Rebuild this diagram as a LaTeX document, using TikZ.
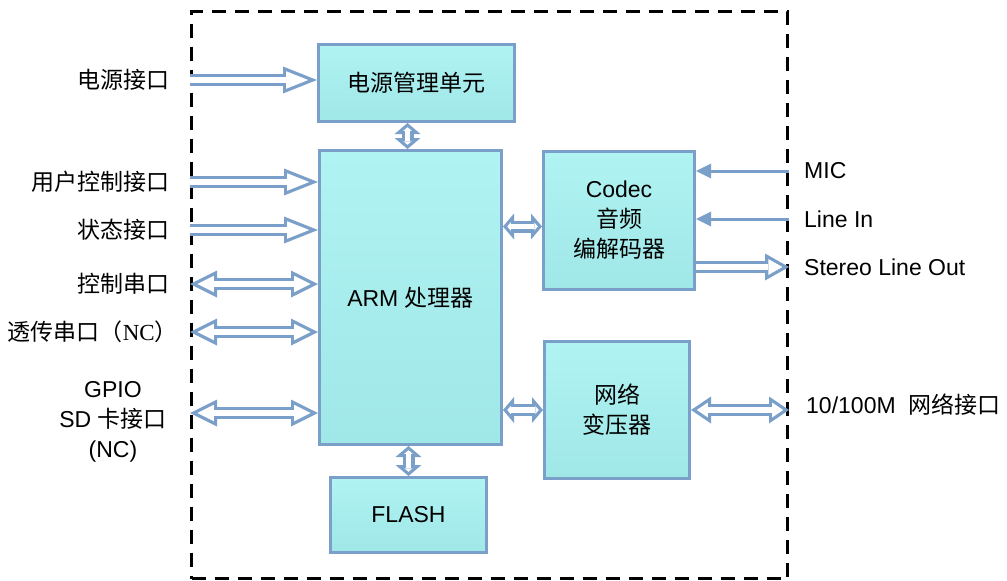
\documentclass[tikz,border=0pt]{standalone}
\usepackage{fontspec}
\setmainfont{Liberation Sans}
\newfontfamily\cjk{Noto Sans CJK SC}
\newfontfamily\serifnc{Liberation Serif}
\usetikzlibrary{arrows.meta}

\definecolor{edgeblue}{RGB}{122,160,202}
\definecolor{celltop}{RGB}{176,243,243}
\definecolor{cellbot}{RGB}{160,231,231}

\tikzset{
    bigtipo/.tip={Triangle[length=34pt,width=27pt,line width=0pt]},
    bigtipi/.tip={Triangle[length=22pt,width=17.5pt,line width=0pt]},
    midtipo/.tip={Triangle[length=27pt,width=27pt,line width=0pt]},
    midtipi/.tip={Triangle[length=16.5pt,width=16.5pt,line width=0pt]},
    nettipo/.tip={Triangle[length=20pt,width=27pt,line width=0pt]},
    nettipi/.tip={Triangle[length=11pt,width=14.8pt,line width=0pt]},
    outtipo/.tip={Triangle[length=24pt,width=27pt,line width=0pt]},
    outtipi/.tip={Triangle[length=14.1pt,width=15.9pt,line width=0pt]},
    tinytipo/.tip={Triangle[length=11pt,width=26pt,line width=0pt]},
    tinytipi/.tip={Triangle[length=3.5pt,width=8.3pt,line width=0pt]},
    block/.style={draw=edgeblue, line width=3pt, top color=celltop, bottom color=cellbot,
        anchor=north west, inner sep=0pt, align=center, font=\fontsize{23}{30}\selectfont},
    pinlbl/.style={inner sep=0pt, align=center, font=\fontsize{23}{30}\selectfont},
    % hollow buses: blue body, white core
    inbus/.style={draw=edgeblue, line width=12pt, -{bigtipo},
        postaction={draw=white, line width=5.5pt, -{bigtipi}, shorten >=8.8pt}},
    bibus/.style={draw=edgeblue, line width=12pt, {midtipo}-{midtipo},
        postaction={draw=white, line width=5.5pt, {midtipi}-{midtipi}, shorten <=7.3pt, shorten >=7.3pt}},
    netbus/.style={draw=edgeblue, line width=12pt, {nettipo}-{nettipo},
        postaction={draw=white, line width=5.5pt, {nettipi}-{nettipi}, shorten <=5.8pt, shorten >=5.8pt}},
    outbus/.style={draw=edgeblue, line width=12pt, -{outtipo},
        postaction={draw=white, line width=5.5pt, -{outtipi}, shorten >=6.6pt}},
    tinybus/.style={draw=edgeblue, line width=12pt, {tinytipo}-{tinytipo},
        postaction={draw=white, line width=5.5pt, {tinytipi}-{tinytipi}, shorten <=4.25pt, shorten >=4.25pt}},
    sigline/.style={draw=edgeblue, line width=3pt, -{Triangle[length=15pt,width=15pt,line width=0pt]}},
}

\begin{document}
\begin{tikzpicture}[x=1pt,y=-1pt]
    \useasboundingbox (0,0) rectangle (1007,581);

    % module outline
    \node[draw, line width=3pt, dash pattern=on 14pt off 9pt, anchor=north west, inner sep=0pt,
        minimum width=596pt, minimum height=567pt] (frame) at (190,10) {};

    % blocks
    \node[block, minimum width=196pt, minimum height=77pt] (pwr) at (317,43) {\cjk 电源管理单元};
    \node[block, minimum width=182pt, minimum height=294pt] (arm) at (318,149) {ARM {\cjk 处理器}};
    \node[block, minimum width=151pt, minimum height=138pt] (codec) at (542,150) {Codec\\{\cjk 音频}\\{\cjk 编解码器}};
    \node[block, minimum width=145pt, minimum height=137pt] (net) at (543,340) {{\cjk 网络}\\{\cjk 变压器}};
    \node[block, minimum width=156pt, minimum height=75pt] (flash) at (329,476) {FLASH};

    % left side
    \node[pinlbl, anchor=east] (pwrin) at (170,80) {\cjk 电源接口};
    \node[pinlbl, anchor=east] (usr) at (170,182) {\cjk 用户控制接口};
    \node[pinlbl, anchor=east] (sta) at (170,230) {\cjk 状态接口};
    \node[pinlbl, anchor=east] (ctl) at (170,284) {\cjk 控制串口};
    \node[pinlbl, anchor=east] (tsp) at (178,332) {{\cjk 透传串口（}{\serifnc NC}{\cjk ）}};
    \node[pinlbl] (gpio) at (113,422) {GPIO\\SD {\cjk 卡接口}\\(NC)};
    \coordinate (gpiopin) at ([yshift=9pt]gpio.east);

    % right side
    \node[pinlbl, anchor=west] (mic) at (804,171) {MIC};
    \node[pinlbl, anchor=west] (linein) at (804,219) {Line In};
    \node[pinlbl, anchor=west] (sout) at (804,267) {Stereo Line Out};
    \node[pinlbl, anchor=west] (eth) at (806,405) {10/100M\ \ {\cjk 网络接口}};

    % buses
    \draw[inbus] (frame.west |- pwrin) -- (pwr.west |- pwrin);
    \draw[inbus] (frame.west |- usr) -- (arm.west |- usr);
    \draw[inbus] (frame.west |- sta) -- (arm.west |- sta);
    \draw[bibus] (frame.west |- ctl) -- (arm.west |- ctl);
    \draw[bibus] (frame.west |- tsp) -- (arm.west |- tsp);
    \draw[bibus] (frame.west |- gpiopin) -- (arm.west |- gpiopin);

    \coordinate (pwrpin) at ([xshift=-9pt]pwr.south);
    \draw[tinybus] (pwrpin) -- (pwrpin |- arm.north);
    \draw[tinybus] (arm.south -| flash.north) -- (flash.north);
    \coordinate (cdpin) at ([yshift=-6pt]codec.west);
    \draw[tinybus] (arm.east |- cdpin) -- (cdpin);
    \draw[tinybus] (arm.east |- net.west) -- (net.west);

    \draw[sigline] (frame.east |- mic) -- (codec.east |- mic);
    \draw[sigline] (frame.east |- linein) -- (codec.east |- linein);
    \draw[outbus] (codec.east |- sout) -- (frame.east |- sout);
    \draw[netbus] (net.east) -- (frame.east |- net.east);
\end{tikzpicture}
\end{document}
